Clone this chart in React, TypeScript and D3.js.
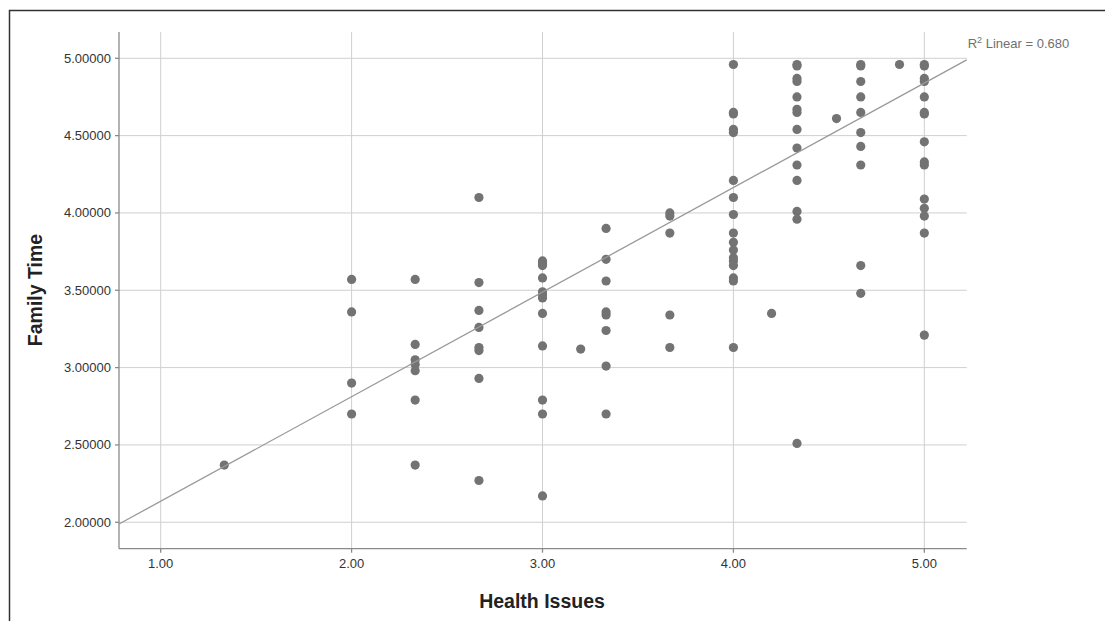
import React from "react";
import * as d3 from "d3";

// Health Issues (x) vs Family Time (y)
const healthIssues = [
  1.333,
  2, 2, 2, 2,
  2.333, 2.333, 2.333, 2.333, 2.333, 2.333, 2.333,
  2.667, 2.667, 2.667, 2.667, 2.667, 2.667, 2.667, 2.667,
  3, 3, 3, 3, 3, 3, 3, 3, 3, 3, 3, 3,
  3.2,
  3.333, 3.333, 3.333, 3.333, 3.333, 3.333, 3.333, 3.333,
  3.667, 3.667, 3.667, 3.667, 3.667,
  4, 4, 4, 4, 4, 4, 4, 4, 4, 4, 4, 4, 4, 4, 4, 4, 4,
  4.2,
  4.333, 4.333, 4.333, 4.333, 4.333, 4.333, 4.333, 4.333, 4.333, 4.333, 4.333, 4.333, 4.333, 4.333,
  4.54,
  4.667, 4.667, 4.667, 4.667, 4.667, 4.667, 4.667, 4.667, 4.667, 4.667,
  4.87,
  5, 5, 5, 5, 5, 5, 5, 5, 5, 5, 5, 5, 5, 5, 5,
];
const familyTime = [
  2.37,
  3.57, 3.36, 2.9, 2.7,
  3.57, 3.15, 3.05, 3.02, 2.98, 2.79, 2.37,
  4.1, 3.55, 3.37, 3.26, 3.13, 3.11, 2.93, 2.27,
  3.69, 3.67, 3.66, 3.58, 3.49, 3.47, 3.45, 3.35, 3.14, 2.79, 2.7, 2.17,
  3.12,
  3.9, 3.7, 3.56, 3.36, 3.34, 3.24, 3.01, 2.7,
  4.0, 3.98, 3.87, 3.34, 3.13,
  4.96, 4.65, 4.64, 4.54, 4.52, 4.21, 4.1, 3.99, 3.87, 3.81, 3.76, 3.71, 3.69, 3.66, 3.58, 3.56, 3.13,
  3.35,
  4.96, 4.95, 4.87, 4.85, 4.75, 4.67, 4.65, 4.54, 4.42, 4.31, 4.21, 4.01, 3.96, 2.51,
  4.61,
  4.96, 4.95, 4.85, 4.75, 4.65, 4.52, 4.43, 4.31, 3.66, 3.48,
  4.96,
  4.96, 4.95, 4.87, 4.85, 4.75, 4.65, 4.64, 4.46, 4.33, 4.31, 4.09, 4.03, 3.98, 3.87, 3.21,
];

const xTicks = [1, 2, 3, 4, 5];
const yTicks = [2, 2.5, 3, 3.5, 4, 4.5, 5];

// fit line as drawn in the output
const fitIntercept = 1.46;
const fitSlope = 0.676;
const r2Text = "0.680";

const W = 1105;
const H = 621;
const left = 119;
const right = 966.7;
const top = 32;
const bottom = 548.7;

const font = "'Liberation Sans', Arial, sans-serif";

export default function App() {
  const x = d3.scaleLinear().domain([0.7816, 5.222]).range([left, right]);
  const y = d3.scaleLinear().domain([1.829, 5.17]).range([bottom, top]);

  const points = healthIssues.map((h, i) => ({ h, f: familyTime[i] }));
  const [x0, x1] = x.domain();
  const fitLine = d3.line<number>()
    .x((d) => x(d))
    .y((d) => y(fitIntercept + fitSlope * d));

  return (
    <svg
      width={W}
      height={H}
      style={{ position: "absolute", left: 0, top: 0, background: "#fff" }}
      fontFamily={font}
    >
      {/* outer frame, only top & left visible */}
      <rect x={9.5} y={10.5} width={W + 20} height={H + 20} fill="none" stroke="#333" strokeWidth={1.5} />

      {/* grid */}
      <g stroke="#cfcfcf" strokeWidth={1}>
        {yTicks.map((t) => (
          <line key={"gy" + t} x1={left} x2={right} y1={y(t)} y2={y(t)} />
        ))}
        {xTicks.map((t) => (
          <line key={"gx" + t} x1={x(t)} x2={x(t)} y1={top} y2={bottom} />
        ))}
      </g>

      {/* axes */}
      <g stroke="#8a8a8a" strokeWidth={1.3}>
        <line x1={left} x2={left} y1={top} y2={bottom} />
        <line x1={left} x2={right} y1={bottom} y2={bottom} />
        {yTicks.map((t) => (
          <line key={"ty" + t} x1={left - 4} x2={left} y1={y(t)} y2={y(t)} />
        ))}
        {xTicks.map((t) => (
          <line key={"tx" + t} x1={x(t)} x2={x(t)} y1={bottom} y2={bottom + 4} />
        ))}
      </g>

      {/* tick labels */}
      <g fontSize={13} fill="#333">
        {yTicks.map((t) => (
          <text key={"ly" + t} x={left - 8} y={y(t) + 4.5} textAnchor="end">
            {d3.format(".5f")(t)}
          </text>
        ))}
        {xTicks.map((t) => (
          <text key={"lx" + t} x={x(t)} y={bottom + 19.5} textAnchor="middle">
            {d3.format(".2f")(t)}
          </text>
        ))}
      </g>

      {/* points */}
      <g fill="#737373">
        {points.map((p, i) => (
          <circle key={i} cx={x(p.h)} cy={y(p.f)} r={4.6} />
        ))}
      </g>

      {/* regression line */}
      <path d={fitLine([x0, x1]) || ""} fill="none" stroke="#999" strokeWidth={1.3} />

      <text x={right + 1} y={47.5} fontSize={13} fill="#707070">
        R<tspan dy={-5} fontSize={9}>2</tspan>
        <tspan dy={5}> Linear = {r2Text}</tspan>
      </text>

      {/* axis titles */}
      <text
        x={542}
        y={608}
        textAnchor="middle"
        fontSize={19.5}
        fontWeight="bold"
        fill="#222"
      >
        Health Issues
      </text>
      <text
        transform={`translate(42, 290) rotate(-90)`}
        textAnchor="middle"
        fontSize={19.5}
        fontWeight="bold"
        fill="#222"
      >
        Family Time
      </text>
    </svg>
  );
}
